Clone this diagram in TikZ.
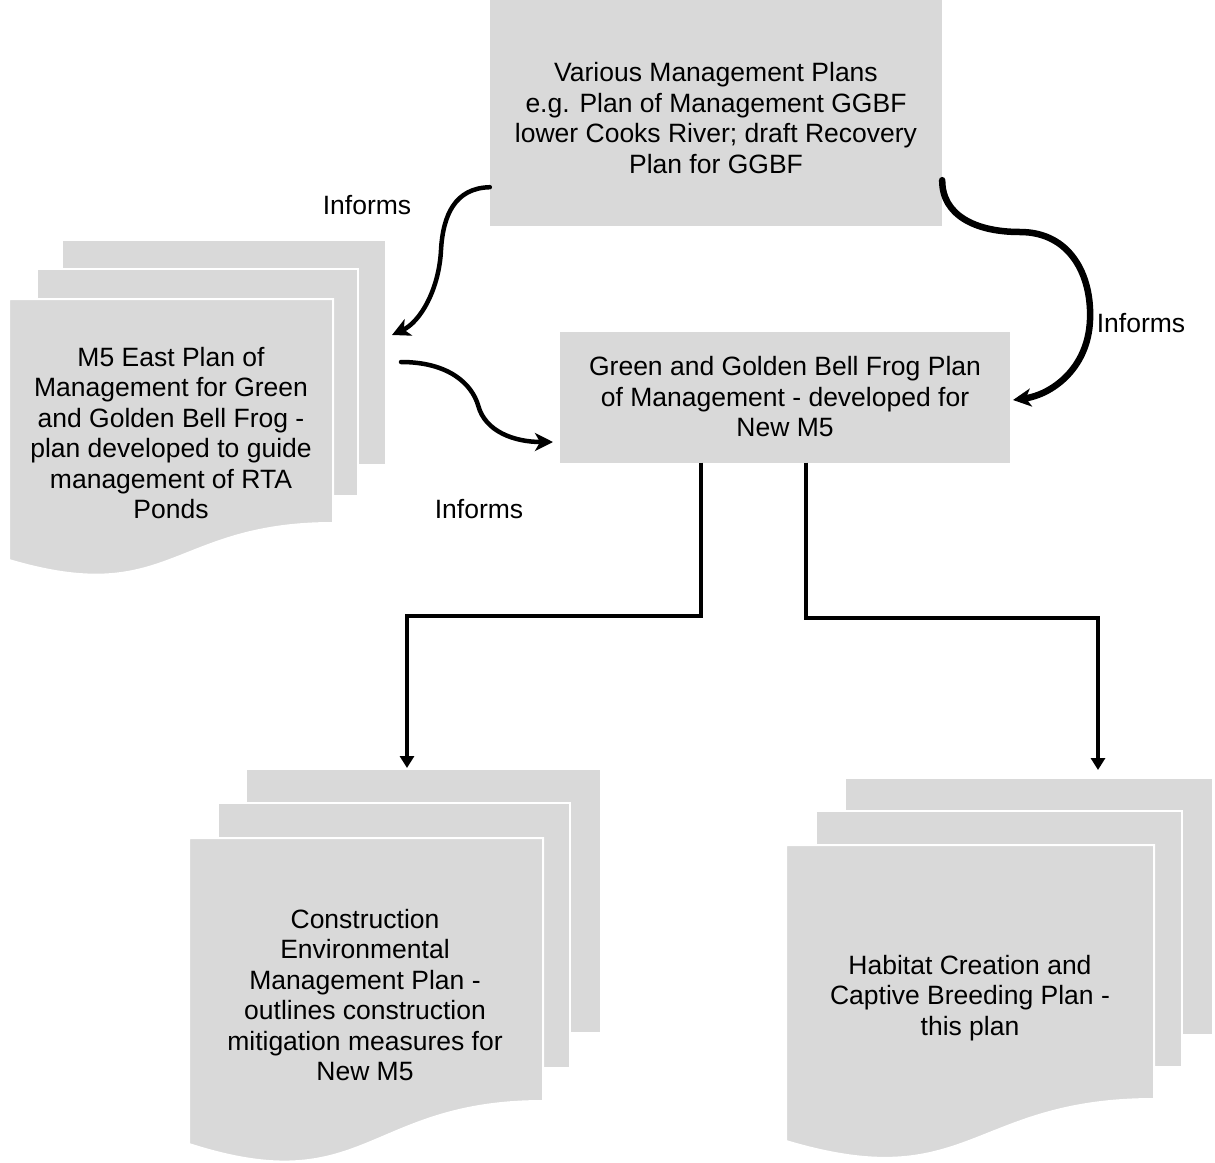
\documentclass[tikz,border=0pt]{standalone}
\usepackage{fontspec}
\setmainfont{Liberation Sans}
\usetikzlibrary{arrows.meta}
\definecolor{sheetgray}{RGB}{217,217,217}

\begin{document}
\begin{tikzpicture}[
x=1pt, y=-1pt,
font=\fontsize{26.5}{30.5}\selectfont,
box/.style={fill=sheetgray, align=center, inner sep=0pt},
sheet/.style={fill=sheetgray, draw=white, line width=2pt},
tag/.style={align=center},
bendarrow/.style={-{Stealth[length=18pt, width=18pt, inset=5pt]}, line width=4.5pt, line cap=round},
elbowarrow/.style={-{Triangle[length=12pt, width=14pt]}, line width=4pt}
]

\useasboundingbox (0,0) rectangle (1215,1162);

% boxes
\node[box, minimum width=452pt, minimum height=226pt] (various) at (716,113)
  {\rule{0pt}{29pt}Various Management Plans\\e.g. Plan of Management GGBF\\lower Cooks River; draft Recovery\\Plan for GGBF};
\node[box, minimum width=450pt, minimum height=131pt] (ggbf) at (785,397)
  {Green and Golden Bell Frog Plan\\of Management - developed for\\New M5};

% M5 East stack
\path[sheet] (62,240) rectangle (386,465);
\path[sheet] (37,269) rectangle (358,496);
\path[sheet] (9,299) -- (333,299) -- (333,523) .. controls (171,523) and (171,608) .. (9,560) -- cycle;
\node[tag] (m5east) at (171,433)
  {M5 East Plan of\\Management for Green\\and Golden Bell Frog -\\plan developed to guide\\management of RTA\\Ponds};

% construction stack
\path[sheet] (246,769) rectangle (601,1033);
\path[sheet] (218,803) rectangle (570,1068);
\path[sheet] (189,838) -- (543,838) -- (543,1101) .. controls (366,1101) and (366,1201) .. (189,1144) -- cycle;
\node[tag] (cemp) at (365,995)
  {Construction\\Environmental\\Management Plan -\\outlines construction\\mitigation measures for\\New M5};

% habitat stack
\path[sheet] (845,778) rectangle (1213,1035);
\path[sheet] (816,811) rectangle (1182,1067);
\path[sheet] (786,845) -- (1154,845) -- (1154,1099) .. controls (970,1099) and (970,1196) .. (786,1141) -- cycle;
\node[tag] (habitat) at (970,998)
  {Habitat Creation and\\Captive Breeding Plan -\\this plan};

% labels
\node (inf1) at (367,205) {Informs};
\node (inf2) at (1141,323) {Informs};
\node (inf3) at (479,509) {Informs};

% connector ends
\coordinate (m5in) at (392,335);
\coordinate (m5out) at (401,362);
\coordinate (ggbfin) at (553,442);
\coordinate (ggbfin2) at (1013,400);
\coordinate (cempin) at (407,768);
\coordinate (habin) at (1098,770);

\draw[bendarrow] ([yshift=39pt]various.south west) .. controls (455,188) and (443,215) .. (441,250)
  .. controls (439,290) and (420,322) .. (m5in);
\draw[bendarrow] (m5out) .. controls (450,362) and (472,385) .. (478,405)
  .. controls (485,432) and (515,442) .. (ggbfin);
\draw[bendarrow, line width=6.5pt] ([yshift=46pt]various.south east) .. controls (942,215) and (975,232) .. (1020,232)
  .. controls (1070,232) and (1092,275) .. (1090,320)
  .. controls (1088,370) and (1050,395) .. (ggbfin2);

\draw[elbowarrow] ([xshift=-84pt]ggbf.south) -- ++(0,153) -| (cempin);
\draw[elbowarrow] ([xshift=21pt]ggbf.south) -- ++(0,155) -| (habin);

\end{tikzpicture}
\end{document}
